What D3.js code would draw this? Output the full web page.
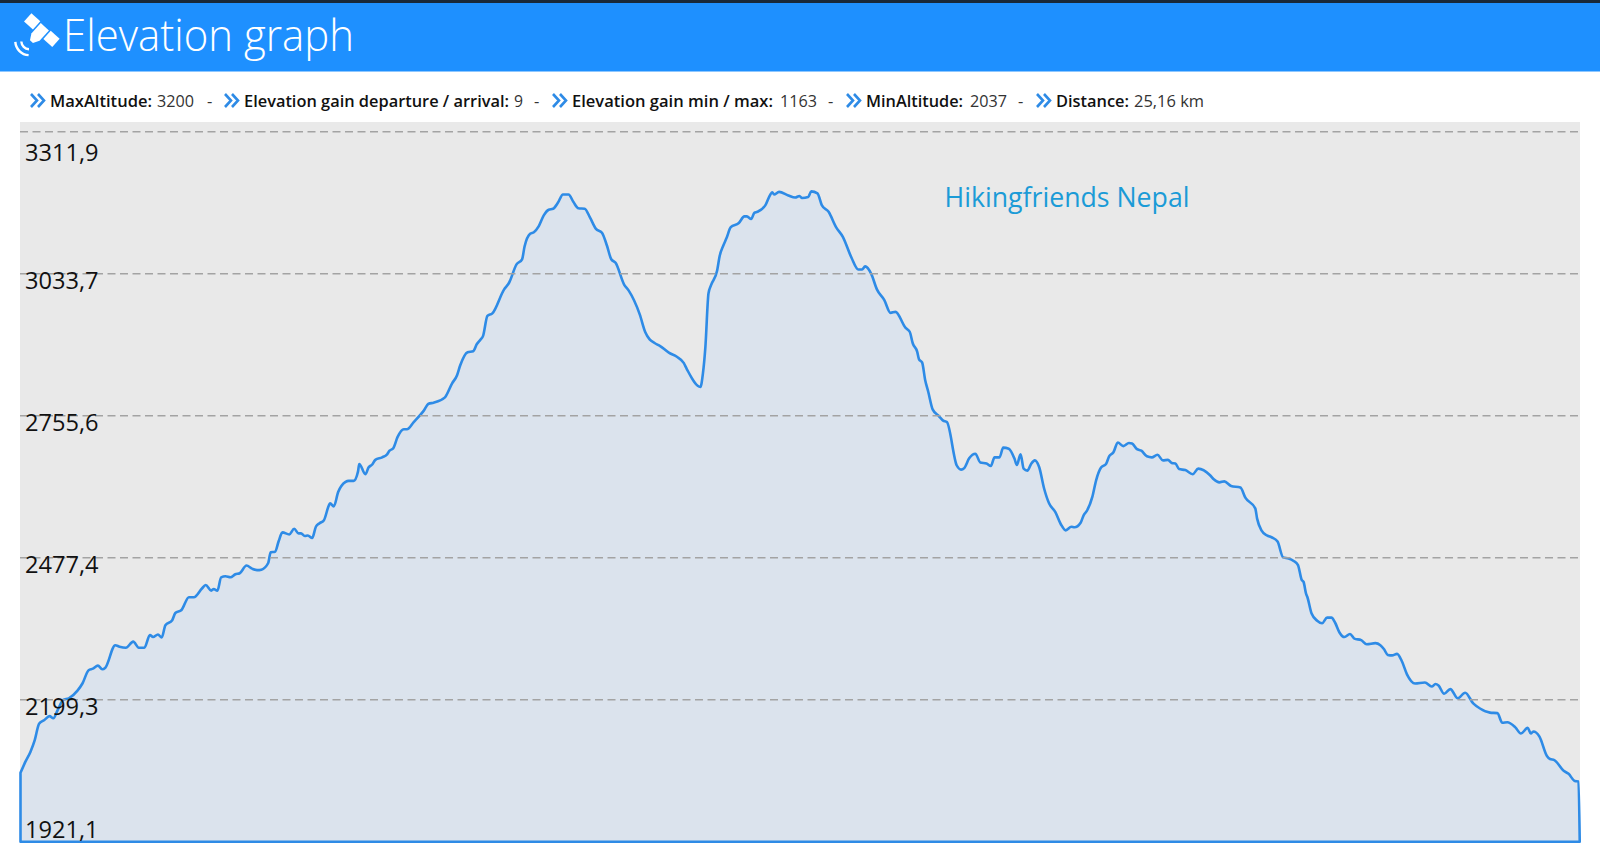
<!DOCTYPE html>
<html><head><meta charset="utf-8">
<script src="https://cdn.jsdelivr.net/npm/d3@7"></script>
<style>html,body{margin:0;padding:0;background:#fff;overflow:hidden}svg{display:block}text{font-family:"Open Sans",sans-serif}</style>
</head><body><svg id="c" width="1600" height="862"></svg>
<script>
const titleText = "Elevation graph";
const watermark = "Hikingfriends Nepal";
const statLabels = ["MaxAltitude:", "Elevation gain departure / arrival:", "Elevation gain min / max:", "MinAltitude:", "Distance:"];
const statValues = ["3200", "9", "1163", "2037", "25,16 km"];
const yTicks = [1921.1, 2199.3, 2477.4, 2755.6, 3033.7, 3311.9];
const totalKm = 25.16;
const distanceKm = [0,.08,.16,.23,.30,.38,.47,.53,.60,.69,.78,.92,1.00,1.10,1.17,1.25,1.32,1.37,1.53,1.60,1.70,1.82,1.91,2.00,2.09,2.14,2.22,2.28,2.34,2.45,2.50,2.60,2.72,2.80,2.93,2.99,3.08,3.12,3.18,3.24,3.31,3.39,3.47,3.54,3.65,3.74,3.82,3.89,4.00,4.04,4.11,4.17,4.23,4.34,4.42,4.49,4.53,4.59,4.64,4.71,4.77,4.83,4.90,4.98,5.00,5.06,5.13,5.25,5.30,5.38,5.45,5.47,5.57,5.62,5.68,5.73,5.84,5.92,5.96,6.02,6.09,6.19,6.24,6.35,6.51,6.59,6.67,6.85,6.97,7.05,7.10,7.22,7.31,7.37,7.43,7.47,7.54,7.62,7.81,7.89,8.01,8.10,8.14,8.23,8.29,8.37,8.45,8.53,8.60,8.68,8.76,8.85,8.93,9.01,9.11,9.20,9.29,9.39,9.47,9.54,9.61,9.75,9.82,10.00,10.09,10.16,10.24,10.33,10.47,10.60,10.71,10.76,10.98,11.02,11.06,11.11,11.15,11.25,11.29,11.35,11.40,11.47,11.60,11.69,11.73,11.80,11.85,11.90,12.03,12.11,12.14,12.17,12.25,12.40,12.51,12.58,12.62,12.72,12.77,12.87,12.94,13.05,13.17,13.28,13.42,13.53,13.59,13.64,13.74,13.83,13.95,14.05,14.13,14.29,14.36,14.41,14.48,14.51,14.56,14.61,14.66,14.73,14.83,14.90,14.96,15.12,15.19,15.24,15.32,15.42,15.50,15.60,15.67,15.73,15.81,15.87,15.96,16.05,16.09,16.15,16.20,16.26,16.32,16.38,16.45,16.53,16.61,16.71,16.80,16.88,16.97,17.02,17.12,17.17,17.22,17.31,17.37,17.45,17.53,17.58,17.65,17.72,17.81,17.90,17.95,18.03,18.10,18.19,18.27,18.36,18.45,18.53,18.59,18.65,18.71,18.81,18.93,19.02,19.21,19.27,19.36,19.44,19.55,19.70,19.78,19.94,19.97,20.04,20.13,20.21,20.30,20.39,20.48,20.56,20.63,20.69,20.72,20.76,20.78,20.85,20.94,21.02,21.10,21.17,21.23,21.30,21.38,21.47,21.54,21.65,21.74,21.88,21.96,22.02,22.08,22.15,22.23,22.31,22.39,22.52,22.68,22.79,22.85,22.90,22.99,23.09,23.21,23.33,23.46,23.57,23.73,23.85,23.93,24.01,24.14,24.23,24.34,24.39,24.43,24.53,24.65,24.70,24.77,24.92,25.00,25.10,25.16];
const altitudeM = [2056,2078,2097,2120,2152,2159,2167,2163,2179,2199,2202,2217,2231,2257,2260,2266,2259,2262,2306,2303,2301,2313,2301,2301,2326,2322,2327,2321,2345,2355,2369,2375,2400,2400,2417,2424,2413,2416,2413,2439,2441,2439,2445,2447,2462,2456,2453,2454,2467,2488,2489,2510,2527,2523,2534,2525,2525,2520,2521,2516,2538,2545,2551,2580,2584,2578,2606,2626,2628,2628,2646,2661,2641,2654,2660,2669,2674,2680,2687,2692,2714,2729,2729,2743,2765,2779,2781,2791,2819,2835,2854,2880,2882,2896,2905,2912,2951,2956,3003,3016,3052,3062,3087,3112,3115,3127,3148,3159,3161,3173,3189,3189,3174,3162,3161,3143,3122,3114,3089,3062,3055,3012,3001,2954,2919,2905,2898,2892,2879,2871,2859,2847,2812,2838,2890,2995,3011,3040,3068,3089,3103,3125,3133,3146,3146,3141,3153,3155,3168,3189,3193,3189,3194,3187,3183,3186,3182,3184,3195,3191,3168,3155,3125,3106,3065,3042,3042,3048,3033,3003,2982,2957,2959,2928,2920,2897,2881,2866,2860,2825,2802,2768,2755,2746,2743,2658,2650,2653,2672,2681,2664,2662,2657,2674,2674,2693,2691,2672,2659,2680,2652,2648,2661,2668,2655,2613,2584,2567,2543,2531,2538,2537,2546,2561,2569,2597,2629,2654,2661,2676,2684,2703,2696,2702,2701,2690,2687,2676,2674,2679,2668,2669,2663,2662,2651,2649,2641,2652,2639,2631,2625,2627,2618,2615,2595,2574,2554,2531,2521,2517,2509,2478,2476,2471,2463,2434,2430,2407,2401,2368,2354,2349,2360,2360,2350,2331,2322,2328,2319,2316,2308,2310,2306,2298,2287,2286,2289,2274,2249,2231,2233,2225,2230,2227,2211,2220,2202,2213,2192,2182,2174,2173,2154,2155,2145,2133,2144,2133,2137,2127,2089,2083,2081,2060,2054,2040,2039];

const svg = d3.select("#c");
const blue = "#2e8be6";
const X = d3.scaleLinear().domain([0, totalKm]).range([20.5, 1578.5]);
const Y = d3.scaleLinear().domain([yTicks[0], yTicks[5]]).range([841.7, 131.7]);

// page chrome
svg.append("rect").attr("width",1600).attr("height",3).attr("fill","#18283a");
svg.append("rect").attr("y",3).attr("width",1600).attr("height",68.5).attr("fill","#1e90ff");
svg.append("text").attr("x",63).attr("y",51).attr("fill","#fff").attr("font-size",44.5).attr("font-weight",300)
  .attr("textLength",291).attr("lengthAdjust","spacingAndGlyphs").text(titleText);

// satellite icon
const sat = svg.append("g").attr("transform","translate(41.5,30.5) rotate(42)").attr("fill","#fff");
sat.append("rect").attr("x",-19).attr("y",-6).attr("width",12).attr("height",11);
sat.append("rect").attr("x",7).attr("y",-6).attr("width",12).attr("height",11);
sat.append("path").attr("d","M-5.5,-5 L5.5,-5 L5.5,9 L2,15 L-2,15 L-5.5,9 Z");
[7,13].forEach(r => svg.append("path")
  .attr("d", d3.arc()({innerRadius:r,outerRadius:r+2.4,startAngle:Math.PI*1.02,endAngle:Math.PI*1.48}))
  .attr("transform","translate(29.5,41)").attr("fill","#fff"));

// stats row
const labelX = [50,244,572,866,1056], valueX = [157,514,780,970,1134], dashX = [207,534,828,1018];
const chevronX = [31,225,553,847,1037];
chevronX.forEach(x => svg.append("path").attr("transform",`translate(${x},94)`)
  .attr("d","M0,0 L6,6.5 L0,13 M7,0 L13,6.5 L7,13").attr("fill","none").attr("stroke",blue).attr("stroke-width",2.6));
const statY = 106.5;
const labelW = [102,265,201,97,73], valueW = [37,9,37,37,70];
const row = svg.append("g").attr("font-size",16.5).attr("fill","#111");
statLabels.forEach((t,i)=>row.append("text").attr("x",labelX[i]).attr("y",statY).attr("font-weight",600)
  .attr("textLength",labelW[i]).attr("lengthAdjust","spacingAndGlyphs").text(t));
statValues.forEach((t,i)=>row.append("text").attr("x",valueX[i]).attr("y",statY).attr("fill","#333")
  .attr("textLength",valueW[i]).attr("lengthAdjust","spacingAndGlyphs").text(t));
dashX.forEach(x=>row.append("text").attr("x",x).attr("y",statY).attr("fill","#333").text("-"));

// plot background
svg.append("rect").attr("x",20).attr("y",122).attr("width",1560).attr("height",720).attr("fill","#e9e9e9");

// area outline
const pts = distanceKm.map((d,i)=>[d, altitudeM[i]]);
pts.push([totalKm+0.02, yTicks[0]]);
const areaGen = d3.area().x(d=>X(d[0])).y0(Y(yTicks[0])).y1(d=>Y(d[1])).curve(d3.curveMonotoneX);
svg.append("path").attr("d", areaGen(pts)+"Z")
  .attr("fill","#dbe3ed").attr("stroke",blue).attr("stroke-width",2.6).attr("stroke-linejoin","round");

// gridlines
svg.append("g").selectAll("line").data(yTicks.slice(1)).join("line")
  .attr("x1",20).attr("x2",1580).attr("y1",d=>Y(d)).attr("y2",d=>Y(d))
  .attr("stroke","#a3a3a3").attr("stroke-width",1.4).attr("stroke-dasharray","8 4.5");

// y labels
const fmt = d => d.toFixed(1).replace(".",",");
const axis = d3.axisRight(Y).tickValues(yTicks).tickFormat(fmt).tickSize(0).tickPadding(0);
const ax = svg.append("g").attr("transform","translate(25,0)").call(axis);
ax.select(".domain").remove();
const labelDrop = d => d===yTicks[5] ? 29 : d===yTicks[0] ? -4 : 14.8;
ax.selectAll("text").attr("dy",null).attr("font-size",23.6).attr("fill","#111")
  .style("font-family",'"Open Sans",sans-serif')
  .attr("y",labelDrop);

// watermark
svg.append("text").attr("x",944.5).attr("y",206.5).attr("font-size",27).attr("fill","#1b9bd7")
  .attr("textLength",245).attr("lengthAdjust","spacingAndGlyphs").text(watermark);
</script></body></html>
